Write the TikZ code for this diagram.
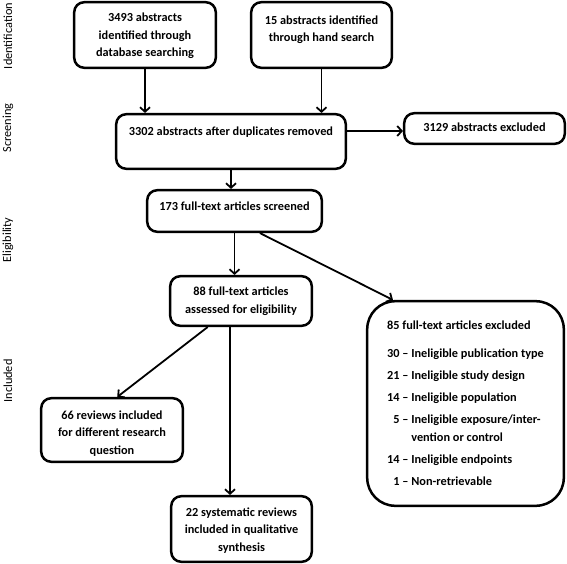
\documentclass[tikz,border=0pt]{standalone}
\usepackage{fontspec}
\setmainfont{Carlito}
\usepackage{tikz}
\usetikzlibrary{arrows.meta,calc}

\begin{document}
\begin{tikzpicture}[x=1pt,y=-1pt]

\tikzset{box/.style={draw, line width=2.5pt, rounded corners=10pt, align=center, inner ysep=0pt,
  font=\bfseries\fontsize{12.3}{17.5}\selectfont},
arr/.style={->, line width=1.8pt, >={Straight Barb[length=4.5pt,width=10pt]}},
%stage names on the left
stage/.style={rotate=90, font=\fontsize{12.3}{14}\selectfont}}

\useasboundingbox (0,0) rectangle (567,564);

\node[stage] (idlabel) at (8,36) {Identification};
\node[stage] (scrlabel) at (8,128) {Screening};
\node[stage] (eliglabel) at (8,240) {Eligibility};
\node[stage] (incllabel) at (8,381) {Included};

%text height goes up to the last line
\node[box, minimum width=141.6pt, text height=54.8pt, text depth=10.8pt] (dbsearch) at (145,35)
  {3493 abstracts\\identified through\\database searching};
\node[box, minimum width=140.6pt, text height=39.8pt, text depth=25.8pt] (handsearch) at (321.5,35)
  {15 abstracts identified\\through hand search};
\node[box, minimum width=229.6pt, text height=21.8pt, text depth=32.8pt] (dedup) at (231,141.5)
  {3302 abstracts after duplicates removed};
\node[box, minimum width=160.6pt, text height=18.8pt, text depth=11.8pt] (absexcl) at (484.5,128.5)
  {3129 abstracts excluded};
\node[box, minimum width=174.6pt, text height=19.8pt, text depth=21.8pt] (screened) at (234.5,211)
  {173 full-text articles screened};
\node[box, minimum width=141.6pt, text height=36.8pt, text depth=12.8pt] (assessed) at (241,301)
  {88 full-text articles\\assessed for eligibility};
\node[box, align=left, rounded corners=28pt, minimum width=196.6pt, text height=183.8pt, text depth=20.8pt] (ftexcl) at (465.5,403.5)
  {85 full-text articles excluded\\[10.5pt]
   30 -- Ineligible publication type\\[4.5pt]
   21 -- Ineligible study design\\[4.5pt]
   14 -- Ineligible population\\[4.5pt]
   \hphantom{1}5 -- Ineligible exposure/inter-\\
   \hphantom{14 -- }vention or control\\[4.5pt]
   14 -- Ineligible endpoints\\[4.5pt]
   \hphantom{1}1 -- Non-retrievable};
\node[box, minimum width=141.6pt, text height=55.8pt, text depth=7.8pt] (otherq) at (112,430)
  {66 reviews included\\for different research\\question};
\node[box, minimum width=140.6pt, text height=54.8pt, text depth=10.8pt] (included) at (241.5,529)
  {22 systematic reviews\\included in qualitative\\synthesis};

\coordinate (exclin) at ([yshift=-2.5pt]absexcl.west);

\draw[arr] (dbsearch.south) -- (dbsearch.south |- dedup.north);
\draw[arr] (handsearch.south) -- (handsearch.south |- dedup.north);
\draw[arr] (dedup.east |- exclin) -- (exclin);
\draw[arr] (dedup.south) -- (dedup.south |- screened.north);
\draw[arr] (screened.south) -- (screened.south |- assessed.north);
\draw[arr] (screened.-41) -- (ftexcl.125);
\draw[arr] (assessed.218) -- (otherq.81);
\draw[arr] ([xshift=-11pt]assessed.south) -- ([xshift=-11pt]assessed.south |- included.north);

\end{tikzpicture}
\end{document}
